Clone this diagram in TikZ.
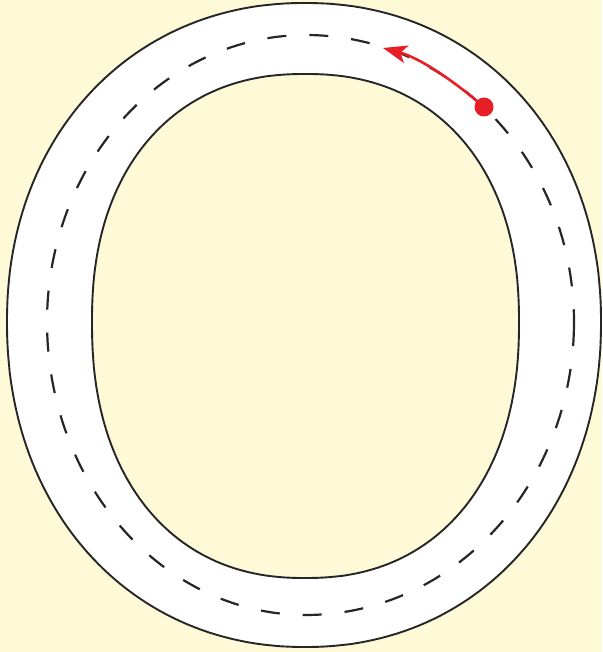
\documentclass[tikz,border=0pt]{standalone}
\usepackage{tikz}
\usetikzlibrary{arrows.meta}

\definecolor{paper}{RGB}{254,249,214}
\definecolor{carred}{RGB}{232,30,38}

% closed track curve: centre x, centre y, left, right, top, bottom half-widths, exponent
\newcommand{\trackline}[7]{plot[domain=1:361, samples=241]
  ({#1 + (cos(\x)<0 ? #3 : #4)*sign(cos(\x))*pow(abs(cos(\x)),#7)},
   {#2 + (sin(\x)<0 ? #5 : #6)*sign(sin(\x))*pow(abs(sin(\x)),#7)}) -- cycle}

\begin{document}
\begin{tikzpicture}[x=1pt, y=-1pt, >=Stealth,
    edge/.style={line width=1.9pt, black!85},
    lane/.style={line width=2.2pt, black!85, dash pattern=on 19pt off 23pt},
    car/.style={circle, fill=carred, inner sep=0pt, minimum size=19pt},
    drive/.style={line width=2.6pt, carred, shorten <=-2pt}]
  % background
  \fill[paper] (0,0) rectangle (602,652);
  \useasboundingbox (0,0) rectangle (602,652);
  % track
  \fill[white, even odd rule] \trackline{305}{322}{298}{296}{319}{325}{0.95}
    \trackline{305}{322}{213}{214}{248}{256}{0.89};
  \draw[edge] \trackline{305}{322}{298}{296}{319}{325}{0.95};
  \draw[edge] \trackline{305}{322}{213}{214}{248}{256}{0.89};
  \draw[lane] \trackline{306}{322}{259}{268}{287}{293}{1};
  % car and its direction
  \node[car] (car) at (484,107) {};
  \coordinate (ahead) at (383,48);
  \draw[drive, -{Stealth[length=24pt, width=18pt, inset=6pt]}] (car) .. controls (452,80) and (420,58) .. (ahead);
\end{tikzpicture}
\end{document}
